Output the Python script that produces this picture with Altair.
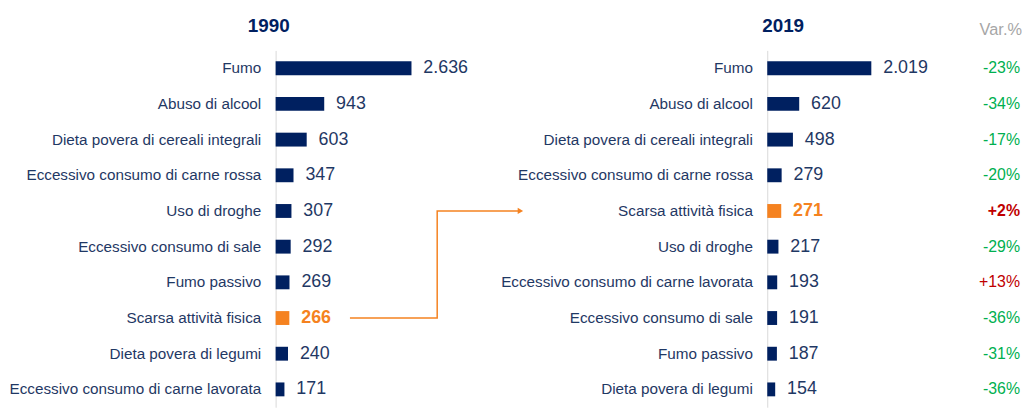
import altair as alt
import pandas as pd

FONT = "Liberation Sans, Arial, sans-serif"
NAVY = "#002060"
TXT = "#1f3864"
ORANGE = "#F58220"
GREEN = "#00B050"
RED = "#C00000"
GRAY = "#A6A6A6"

cats_1990 = ["Fumo", "Abuso di alcool", "Dieta povera di cereali integrali",
             "Eccessivo consumo di carne rossa", "Uso di droghe",
             "Eccessivo consumo di sale", "Fumo passivo", "Scarsa attività fisica",
             "Dieta povera di legumi", "Eccessivo consumo di carne lavorata"]
vals_1990 = [2636, 943, 603, 347, 307, 292, 269, 266, 240, 171]

cats_2019 = ["Fumo", "Abuso di alcool", "Dieta povera di cereali integrali",
             "Eccessivo consumo di carne rossa", "Scarsa attività fisica",
             "Uso di droghe", "Eccessivo consumo di carne lavorata",
             "Eccessivo consumo di sale", "Fumo passivo", "Dieta povera di legumi"]
vals_2019 = [2019, 620, 498, 279, 271, 217, 193, 191, 187, 154]
var_2019 = ["-23%", "-34%", "-17%", "-20%", "+2%", "-29%", "+13%", "-36%", "-31%", "-36%"]
var_header = ["Var.%"]

highlight = "Scarsa attività fisica"

# connector annotation (left panel data units / categories)
conn_x = [1442, 3135, 3135, 4750]
conn_y = [highlight, highlight, "Uso di droghe", "Uso di droghe"]


def fmt(v):
    return f"{v:,}".replace(",", ".")


def make_df(cats, vals):
    return pd.DataFrame({
        "cat": cats,
        "val": vals,
        "label": [fmt(v) for v in vals],
        "hl": [c == highlight for c in cats],
        "color": [ORANGE if c == highlight else NAVY for c in cats],
        "tcolor": [ORANGE if c == highlight else TXT for c in cats],
    })


def panel(df, cats, title, title_x, width, xmax, extra=None):
    y = alt.Y("cat:N", scale=alt.Scale(domain=cats),
              axis=alt.Axis(title=None, ticks=False, domain=True, domainColor="#D9D9D9",
                            domainWidth=1, labelPadding=15, labelFontSize=15.4,
                            labelColor=TXT, labelFont=FONT, labelLimit=400))
    x = alt.X("val:Q", scale=alt.Scale(domain=[0, xmax], nice=False), axis=None)
    base = alt.Chart(df)
    bars = base.mark_bar(size=14).encode(x=x, y=y, color=alt.Color("color:N", scale=None))
    txt = base.transform_filter("!datum.hl").mark_text(
        align="left", baseline="middle", dx=12, fontSize=18, font=FONT).encode(
        x=x, y=y, text="label:N", color=alt.Color("tcolor:N", scale=None))
    txt_hl = base.transform_filter("datum.hl").mark_text(
        align="left", baseline="middle", dx=12, fontSize=18, font=FONT, fontWeight="bold").encode(
        x=x, y=y, text="label:N", color=alt.Color("tcolor:N", scale=None))
    ttl = alt.Chart(pd.DataFrame({"t": [title]})).mark_text(
        align="center", baseline="middle", fontSize=19, fontWeight="bold",
        font=FONT, color=NAVY).encode(x=alt.value(title_x), y=alt.value(-25), text="t:N")
    layers = [bars, txt, txt_hl, ttl]
    if extra is not None:
        layers += extra(y)
    return alt.layer(*layers).properties(width=width, height=360)


def connector(y):
    cdf = pd.DataFrame({"val": conn_x, "cat": conn_y, "o": list(range(len(conn_x)))})
    line = alt.Chart(cdf).mark_line(color=ORANGE, strokeWidth=1.5).encode(
        x=alt.X("val:Q"), y=alt.Y("cat:N"), order="o:Q")
    head = alt.Chart(cdf.tail(1)).mark_point(shape="triangle-right", filled=True,
                                             color=ORANGE, size=40, opacity=1).encode(
        x=alt.X("val:Q"), y=alt.Y("cat:N"))
    return [line, head]


def var_layers(y):
    vdf = pd.DataFrame({"cat": cats_2019, "var": var_2019,
                        "bold": [c == highlight for c in cats_2019]})
    vdf["vcolor"] = [RED if v.startswith("+") else GREEN for v in var_2019]
    vbase = alt.Chart(vdf)
    vt = vbase.transform_filter("!datum.bold").mark_text(
        align="right", baseline="middle", fontSize=16, font=FONT).encode(
        x=alt.value(255), y=y, text="var:N", color=alt.Color("vcolor:N", scale=None))
    vtb = vbase.transform_filter("datum.bold").mark_text(
        align="right", baseline="middle", fontSize=16, font=FONT, fontWeight="bold").encode(
        x=alt.value(255), y=y, text="var:N", color=alt.Color("vcolor:N", scale=None))
    hdr = alt.Chart(pd.DataFrame({"h": var_header})).mark_text(
        align="right", baseline="middle", fontSize=16.5, font=FONT, color=GRAY).encode(
        x=alt.value(257), y=alt.value(-21), text="h:N")
    return [vt, vtb, hdr]


df1 = make_df(cats_1990, vals_1990)
df2 = make_df(cats_2019, vals_2019)

left = panel(df1, cats_1990, "1990", -7, 215, 4135, extra=connector)
right = panel(df2, cats_2019, "2019", 16, 254, 4885, extra=var_layers)

chart = alt.hconcat(left, right, spacing=281, bounds="flush").properties(
    padding={"left": 0, "top": 7, "right": 0, "bottom": 0},
    background="white"
).configure_view(stroke="transparent", strokeWidth=0)

chart.save("out.html", embed_options={"renderer": "svg", "actions": False})
